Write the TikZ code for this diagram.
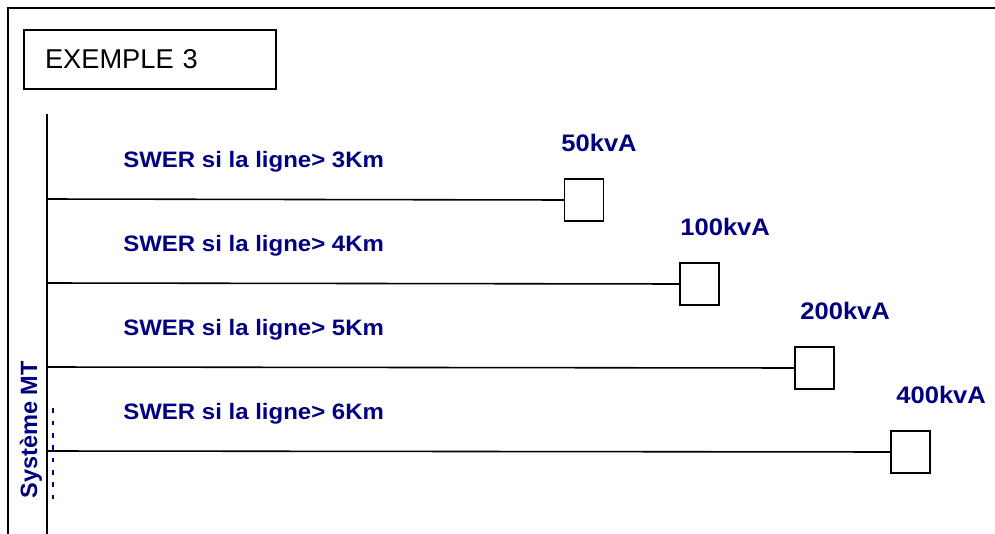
\documentclass[tikz,border=0pt]{standalone}
\usepackage{fontspec}
\setmainfont{Liberation Sans}
\usetikzlibrary{arrows}
\definecolor{marine}{rgb}{0,0,0.5}
\newcommand{\etire}[2]{\scalebox{#1}[1]{#2}}

\begin{document}
\begin{tikzpicture}[line cap=rect,line join=miter,x=0.02cm,y=-0.02cm,
  ligne/.style={line width=0.9pt},
  transfo/.style={draw,line width=0.9pt,minimum width=0.78cm,minimum height=0.84cm,inner sep=0pt},
  etiq/.style={color=marine,font=\bfseries\fontsize{12.7}{14}\selectfont,inner sep=0pt},
  puiss/.style={color=marine,font=\bfseries\fontsize{13.6}{15}\selectfont,inner sep=0pt}]
\useasboundingbox (0,0) rectangle (995,534);
%cadre
\draw[line width=1.2pt] (8,534) -- (8,8) -- (995,8);
\node[draw,line width=0.8pt,minimum width=5.04cm,minimum height=1.18cm,
  text width=4.2cm,inner xsep=0.42cm,align=left,font=\fontsize{15.5}{17}\selectfont]
  (titre) at (150,59.5) {EXEMPLE 3};

%barre MT
\coordinate (haut) at (47,115);
\coordinate (bas) at (47,534);
\draw[ligne] (haut) -- (bas);
\node[color=marine,font=\bfseries\fontsize{13.4}{15}\selectfont,rotate=90,inner sep=0pt]
  (mt) at (31,430) {Système MT};
\draw[color=marine,line width=0.6pt,dash pattern=on 2pt off 5pt] (53,409) -- (53,498);

%departs
\foreach \i/\xb/\xp/\kva in {0/584/561/50,1/699.5/680/100,2/814.5/800/200,3/910.5/896/400}
{
\coordinate (d\i) at (47,199+84*\i);
\node[transfo] (tr\i) at (\xb,200+84*\i) {};
\draw[ligne] (d\i) -- (tr\i.west);
\node[etiq,anchor=base west] (sw\i) at (123,167+84*\i)
  {\etire{1.075}{SWER si la ligne> \the\numexpr\i+3\relax Km}};
\node[puiss,anchor=base west] (p\i) at (\xp,151+84*\i) {\etire{1.07}{\kva kvA}};
}
\end{tikzpicture}
\end{document}
